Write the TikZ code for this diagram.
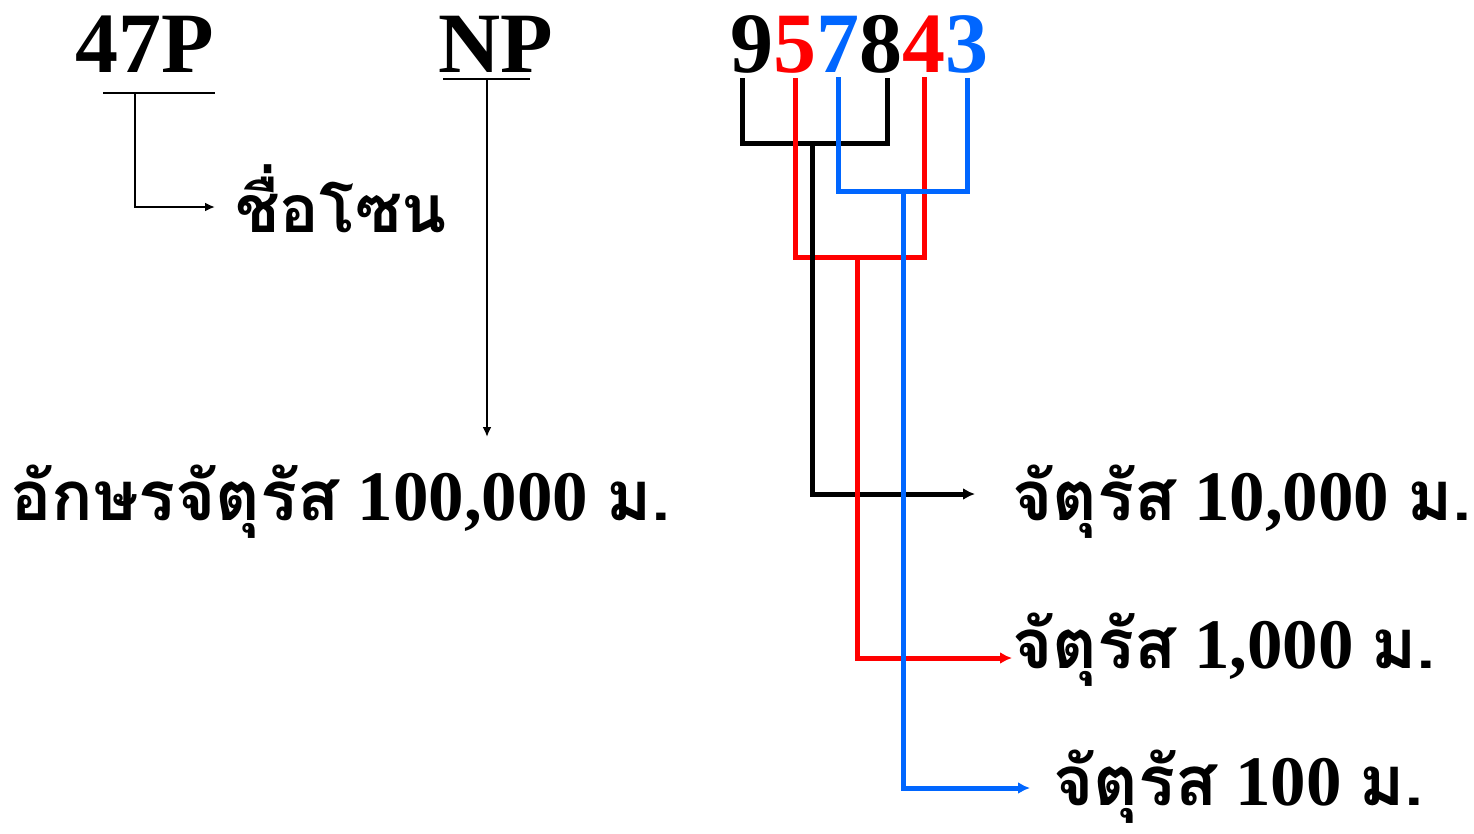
\documentclass[tikz,border=0pt]{standalone}
\usepackage{fontspec}
\setmainfont{Liberation Serif}
\newfontfamily\thaifont[Script=Thai,Scale=0.97]{Loma}
\usetikzlibrary{arrows.meta}
\definecolor{gridred}{HTML}{FF0000}
\definecolor{gridblue}{HTML}{0066FF}
\tikzset{
  txt/.style={inner sep=0pt,anchor=base west,font=\fontsize{86}{90}\selectfont\bfseries},
  lbl/.style={inner sep=0pt,anchor=base west,font=\fontsize{71}{75}\selectfont\bfseries},
  digit/.style={inner sep=0pt,anchor=base,font=\fontsize{86}{90}\selectfont\bfseries},
  thinline/.style={line width=2pt},
  thinarrow/.style={line width=2pt,-{Latex[length=10pt,width=9pt]}},
  thickline/.style={line width=5pt},
  thickarrow/.style={line width=5pt,-{Latex[length=12pt,width=12pt]}}
}
\begin{document}
\begin{tikzpicture}[x=1pt,y=-1pt]
\useasboundingbox (0,0) rectangle (1474,833);
% zone and square letters
\node[txt] (zone47) at (75,72) {47P};
\node[txt] (np) at (438,72) {NP};
\node[lbl,font=\fontsize{68}{72}\selectfont\bfseries] (zone) at (235,232) {\thaifont ชื่อโซน};
\node[lbl] (grid) at (10,520) {{\thaifont อักษรจัตุรัส} 100,000 {\thaifont ม.}};
\coordinate (u47l) at (103,93);\coordinate (u47r) at (215,93);
\coordinate (u47m) at (135,93);\coordinate (ztip) at (215,207);
\coordinate (unpl) at (443,79);\coordinate (unpr) at (530,79);
\coordinate (unpm) at (487,79);\coordinate (gtip) at (487,437);
\draw[thinline] (u47l)--(u47r);
\draw[thinarrow] (u47m) |- (ztip);
\draw[thinline] (unpl)--(unpr);
\draw[thinarrow] (unpm)--(gtip);
% coordinate digits
\foreach \d/\c/\x in {9/black/752,5/gridred/795,7/gridblue/838,8/black/881,4/gridred/924,3/gridblue/967}
  \node[digit,text=\c] (d\d) at (\x,72) {\d};
\node[lbl] (sq10) at (1012,520) {{\thaifont จัตุรัส} 10,000 {\thaifont ม.}};
\node[lbl] (sq1) at (1012,668) {{\thaifont จัตุรัส} 1,000 {\thaifont ม.}};
\node[lbl] (sq100) at (1053,805) {{\thaifont จัตุรัส} 100 {\thaifont ม.}};
\coordinate (jblack) at (812,143);\coordinate (tip10) at (975,494);
\coordinate (jred) at (857,257);\coordinate (tip1) at (1012,658);
\coordinate (jblue) at (903,191);\coordinate (tip100) at (1030,788);
\draw[thickline] ([xshift=-10pt,yshift=-5pt]d9.south) |- (jblack) -| ([xshift=6pt,yshift=-5pt]d8.south);
\draw[thickline,gridred] ([yshift=-5pt]d5.south) |- (jred) -| ([yshift=-5pt]d4.south);
\draw[thickline,gridblue] ([yshift=-5pt]d7.south) |- (jblue) -| ([yshift=-5pt]d3.south);
\draw[thickarrow] (jblack) |- (tip10);
\draw[thickarrow,gridred] (jred) |- (tip1);
\draw[thickarrow,gridblue] (jblue) |- (tip100);
\end{tikzpicture}
\end{document}
